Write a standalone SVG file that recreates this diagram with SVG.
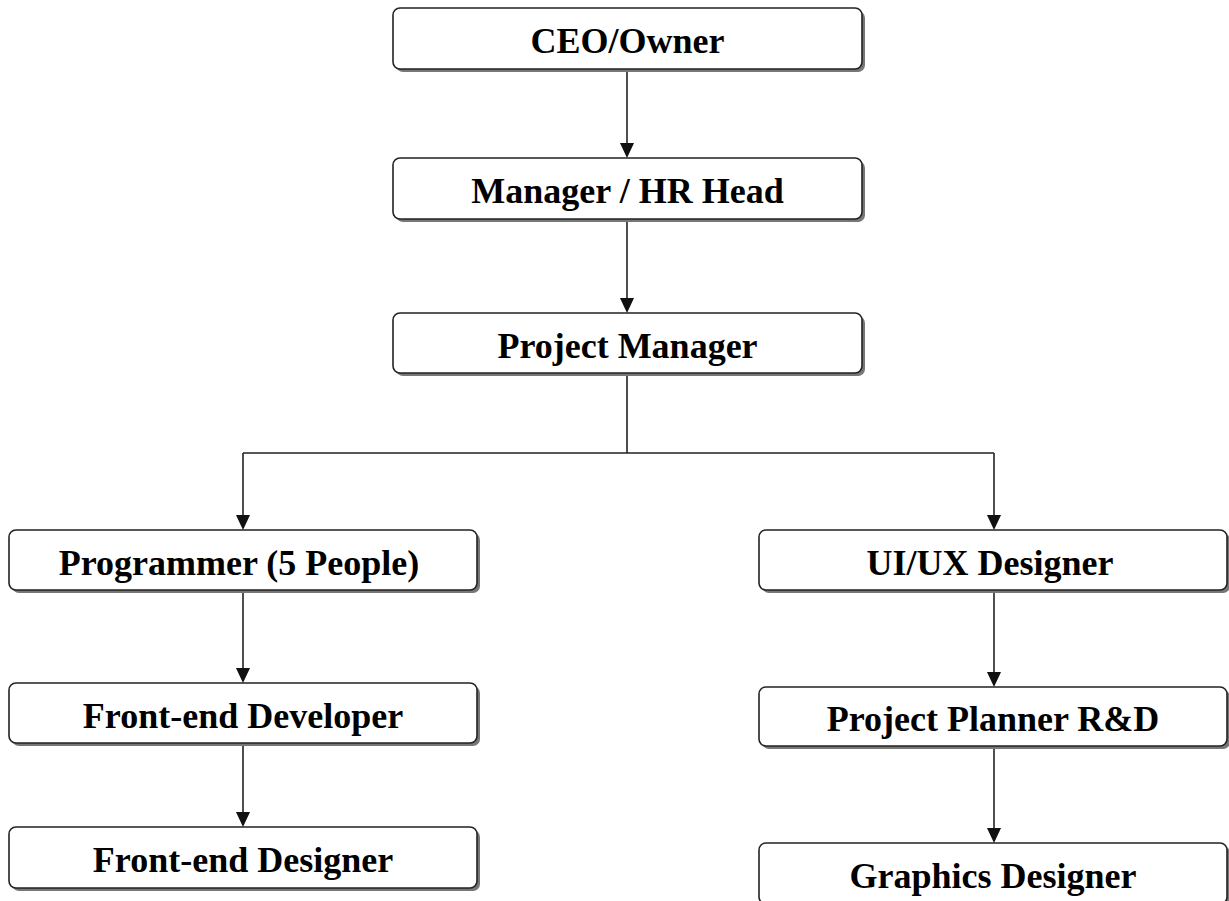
<svg xmlns="http://www.w3.org/2000/svg" width="1229" height="901" viewBox="0 0 1229 901">
<style>
.box{fill:#fff;stroke:#222;stroke-width:1.6}
.sh{fill:#777;stroke:none}
.lbl{font-family:"Liberation Serif","Times New Roman",serif;font-weight:bold;font-size:36px;fill:#000;text-anchor:middle}
.con{fill:none;stroke:#222;stroke-width:1.6}
</style>
<rect width="1229" height="901" fill="#fff"/>
<g id="connectors">
<path class="con" d="M627,69 V150"/>
<path class="con" d="M627,219 V305"/>
<path class="con" d="M627,373 V453 M243,453 H994"/>
<path class="con" d="M243,453 V522"/>
<path class="con" d="M994,453 V522"/>
<path class="con" d="M243,590 V675"/>
<path class="con" d="M243,743 V819"/>
<path class="con" d="M994,590 V679"/>
<path class="con" d="M994,746 V835"/>
<g fill="#111">
<path d="M620,143 L634,143 L627,158 Z"/>
<path d="M620,298 L634,298 L627,313 Z"/>
<path d="M236,515 L250,515 L243,530 Z"/>
<path d="M987,515 L1001,515 L994,530 Z"/>
<path d="M236,668 L250,668 L243,683 Z"/>
<path d="M236,812 L250,812 L243,827 Z"/>
<path d="M987,672 L1001,672 L994,687 Z"/>
<path d="M987,828 L1001,828 L994,843 Z"/>
</g>
</g>
<g id="ceo">
<rect class="sh" x="396" y="11" width="469" height="61" rx="7"/>
<rect class="box" x="393" y="8" width="469" height="61" rx="7"/>
<text class="lbl" x="627.5" y="53">CEO/Owner</text>
</g>
<g id="manager">
<rect class="sh" x="396" y="161" width="469" height="61" rx="7"/>
<rect class="box" x="393" y="158" width="469" height="61" rx="7"/>
<text class="lbl" x="627.5" y="203">Manager / HR Head</text>
</g>
<g id="pm">
<rect class="sh" x="396" y="316" width="469" height="60" rx="7"/>
<rect class="box" x="393" y="313" width="469" height="60" rx="7"/>
<text class="lbl" x="627.5" y="358">Project Manager</text>
</g>
<g id="programmer">
<rect class="sh" x="12" y="533" width="468" height="60" rx="7"/>
<rect class="box" x="9" y="530" width="468" height="60" rx="7"/>
<text class="lbl" x="239" y="575">Programmer (5 People)</text>
</g>
<g id="frontdev">
<rect class="sh" x="12" y="686" width="468" height="60" rx="7"/>
<rect class="box" x="9" y="683" width="468" height="60" rx="7"/>
<text class="lbl" x="243" y="728">Front-end Developer</text>
</g>
<g id="frontdes">
<rect class="sh" x="12" y="830" width="468" height="61" rx="7"/>
<rect class="box" x="9" y="827" width="468" height="61" rx="7"/>
<text class="lbl" x="243" y="872">Front-end Designer</text>
</g>
<g id="uiux">
<rect class="sh" x="762" y="533" width="468" height="60" rx="7"/>
<rect class="box" x="759" y="530" width="468" height="60" rx="7"/>
<text class="lbl" x="990" y="575">UI/UX Designer</text>
</g>
<g id="planner">
<rect class="sh" x="762" y="690" width="468" height="59" rx="7"/>
<rect class="box" x="759" y="687" width="468" height="59" rx="7"/>
<text class="lbl" x="993" y="731">Project Planner R&amp;D</text>
</g>
<g id="graphics">
<rect class="sh" x="762" y="846" width="468" height="61" rx="7"/>
<rect class="box" x="759" y="843" width="468" height="61" rx="7"/>
<text class="lbl" x="993" y="888">Graphics Designer</text>
</g>
</svg>
